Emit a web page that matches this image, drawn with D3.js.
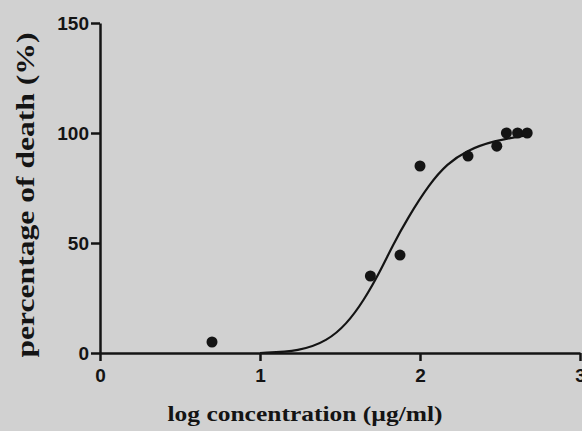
<!DOCTYPE html>
<html>
<head>
<meta charset="utf-8">
<script src="https://cdn.jsdelivr.net/npm/d3@7"></script>
<style>
  html, body { margin: 0; padding: 0; background: #d1d1d1; }
  svg { display: block; }
</style>
</head>
<body>
<div id="chart"></div>
<script>
// observed points (log concentration, % death)
const logConc = [0.70, 1.69, 1.875, 2.00, 2.30, 2.48, 2.54, 2.61, 2.67];
const death = [5, 35, 44.5, 85, 89.5, 94, 100, 100, 100];

// fitted curve
const curveX = [1.00, 1.25, 1.42, 1.54, 1.65, 1.75, 1.83, 1.92, 2.06, 2.17, 2.29, 2.46, 2.67];
const curveY = [0, 0.8, 5.5, 13, 24, 37, 49, 61, 77, 86, 92, 96.5, 99];

const xTicks = [0, 1, 2, 3];
const yTicks = [0, 50, 100, 150];

const width = 582, height = 431;
const margin = { left: 100, top: 23, right: 2, bottom: 78 };

const svg = d3.select('#chart').append('svg')
  .attr('width', width)
  .attr('height', height);

svg.append('rect')
  .attr('width', width).attr('height', height)
  .attr('fill', '#d1d1d1');

const x = d3.scaleLinear().domain([0, 3]).range([margin.left, 580]);
const y = d3.scaleLinear().domain([0, 150]).range([353, margin.top]);

const ink = '#141414';

// x axis
const xAxis = svg.append('g')
  .attr('transform', `translate(0,${y(0)})`)
  .call(d3.axisBottom(x).tickValues(xTicks).tickFormat(d3.format('d')).tickSize(8).tickSizeOuter(0));
xAxis.select('.domain').attr('stroke', ink).attr('stroke-width', 2.5);
xAxis.selectAll('line').attr('stroke', ink).attr('stroke-width', 2.5);
xAxis.selectAll('text')
  .attr('fill', ink)
  .attr('font-family', 'Liberation Sans, Arial, sans-serif')
  .attr('font-weight', 'bold')
  .attr('font-size', 19)
  .attr('dy', '0.95em');

// y axis
const yAxis = svg.append('g')
  .attr('transform', `translate(${x(0)},0)`)
  .call(d3.axisLeft(y).tickValues(yTicks).tickSize(9).tickSizeOuter(0));
yAxis.select('.domain').attr('stroke', ink).attr('stroke-width', 2.5);
yAxis.selectAll('line').attr('stroke', ink).attr('stroke-width', 2.5);
yAxis.selectAll('text')
  .attr('fill', ink)
  .attr('font-family', 'Liberation Sans, Arial, sans-serif')
  .attr('font-weight', 'bold')
  .attr('font-size', 19)
  .attr('x', -11);

// fitted curve
const line = d3.line()
  .x((d, i) => x(curveX[i]))
  .y(d => y(d))
  .curve(d3.curveBasis);

svg.append('path')
  .datum(curveY)
  .attr('d', line)
  .attr('fill', 'none')
  .attr('stroke', ink)
  .attr('stroke-width', 2.2);

// data points
svg.append('g')
  .selectAll('circle')
  .data(logConc)
  .join('circle')
  .attr('cx', d => x(d))
  .attr('cy', (d, i) => y(death[i]))
  .attr('r', 5.5)
  .attr('fill', ink);

// axis titles
svg.append('text')
  .attr('x', 305)
  .attr('y', 421)
  .attr('text-anchor', 'middle')
  .attr('font-family', 'Liberation Serif, Times New Roman, serif')
  .attr('font-weight', 'bold')
  .attr('font-size', 21)
  .attr('textLength', 275)
  .attr('lengthAdjust', 'spacingAndGlyphs')
  .attr('fill', ink)
  .text('log concentration (µg/ml)');

svg.append('text')
  .attr('transform', 'translate(34,195) rotate(-90)')
  .attr('text-anchor', 'middle')
  .attr('font-family', 'Liberation Serif, Times New Roman, serif')
  .attr('font-weight', 'bold')
  .attr('font-size', 25)
  .attr('textLength', 325)
  .attr('lengthAdjust', 'spacingAndGlyphs')
  .attr('fill', ink)
  .text('percentage of death (%)');
</script>
</body>
</html>
